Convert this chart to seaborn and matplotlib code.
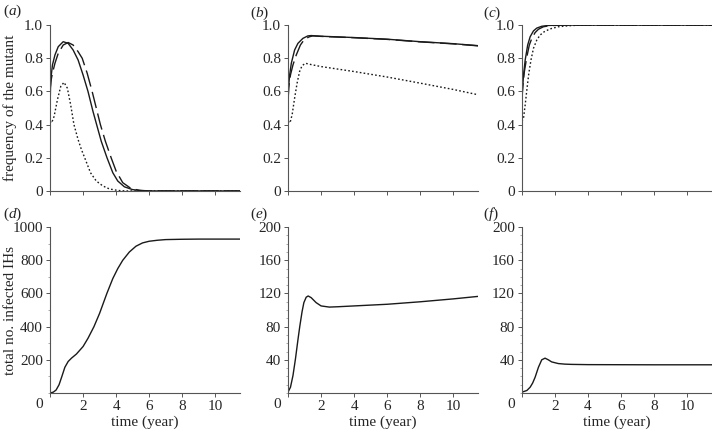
import matplotlib
matplotlib.use("Agg")
import matplotlib.pyplot as plt
import numpy as np
import pandas as pd
import seaborn as sns
from matplotlib.ticker import MultipleLocator

# ---------------------------------------------------------------------------
# values (time in years)
# ---------------------------------------------------------------------------
# (a) frequency of the mutant
a_solid_t = [0, 0.03, 0.08, 0.15, 0.3, 0.5, 0.8, 1.1, 1.4, 1.7, 2.0, 2.3, 2.6, 2.85, 3.1, 3.45, 3.8, 4.1, 4.5, 5.0, 5.5, 6.0, 11.5]
a_solid_v = [0.48, 0.62, 0.70, 0.76, 0.82, 0.87, 0.90, 0.89, 0.85, 0.79, 0.70, 0.60, 0.48, 0.39, 0.30, 0.20, 0.11, 0.06, 0.025, 0.008, 0.002, 0.0, 0.0]
a_dash_t = [0, 0.05, 0.15, 0.3, 0.5, 0.8, 1.1, 1.4, 1.7, 1.95, 2.25, 2.55, 2.8, 3.05, 3.35, 3.7, 4.0, 4.4, 4.9, 5.4, 6.0, 11.5]
a_dash_v = [0.60, 0.66, 0.71, 0.77, 0.83, 0.88, 0.895, 0.88, 0.84, 0.80, 0.71, 0.60, 0.50, 0.40, 0.30, 0.20, 0.12, 0.05, 0.015, 0.004, 0.0, 0.0]
a_dot_t = [0, 0.1, 0.25, 0.45, 0.65, 0.85, 1.05, 1.25, 1.45, 1.7, 1.9, 2.1, 2.45, 2.8, 3.2, 3.6, 4.1, 4.6, 11.5]
a_dot_v = [0.42, 0.41, 0.45, 0.55, 0.63, 0.655, 0.62, 0.52, 0.40, 0.31, 0.25, 0.20, 0.11, 0.06, 0.03, 0.012, 0.003, 0.0, 0.0]

# (b)
b_solid_t = [0, 0.03, 0.1, 0.2, 0.4, 0.6, 0.9, 1.2, 1.4, 2, 4, 6, 8, 10, 11.5]
b_solid_v = [0.48, 0.62, 0.70, 0.77, 0.85, 0.89, 0.92, 0.935, 0.937, 0.933, 0.925, 0.915, 0.90, 0.888, 0.876]
b_dash_t = [0, 0.05, 0.15, 0.3, 0.5, 0.75, 1.0, 1.3, 1.5, 2, 4, 6, 8, 10, 11.5]
b_dash_v = [0.55, 0.63, 0.70, 0.76, 0.82, 0.88, 0.915, 0.93, 0.935, 0.932, 0.924, 0.914, 0.899, 0.887, 0.875]
b_dot_t = [0, 0.12, 0.25, 0.4, 0.55, 0.7, 0.85, 1.05, 1.4, 2, 3, 4, 6, 8, 10, 11.5]
b_dot_v = [0.42, 0.41, 0.46, 0.56, 0.65, 0.72, 0.755, 0.77, 0.762, 0.75, 0.735, 0.72, 0.687, 0.65, 0.612, 0.58]

# (c)
c_solid_t = [0, 0.03, 0.1, 0.2, 0.35, 0.5, 0.7, 0.9, 1.2, 1.6, 2.2, 11.5]
c_solid_v = [0.48, 0.60, 0.70, 0.79, 0.88, 0.93, 0.965, 0.982, 0.993, 0.998, 1.0, 1.0]
c_dash_t = [0, 0.05, 0.15, 0.3, 0.45, 0.6, 0.8, 1.0, 1.3, 1.7, 2.4, 11.5]
c_dash_v = [0.55, 0.63, 0.72, 0.81, 0.88, 0.92, 0.955, 0.975, 0.99, 0.997, 1.0, 1.0]
c_dot_t = [0, 0.1, 0.2, 0.3, 0.42, 0.55, 0.7, 0.9, 1.1, 1.35, 1.7, 2.2, 2.8, 3.5, 11.5]
c_dot_v = [0.42, 0.44, 0.52, 0.61, 0.71, 0.79, 0.86, 0.91, 0.94, 0.96, 0.977, 0.99, 0.996, 1.0, 1.0]

# (d)-(f) total number of infected IHs
d_t = [0, 0.2, 0.37, 0.55, 0.72, 0.9, 1.1, 1.3, 1.6, 2.0, 2.3, 2.66, 3.0, 3.44, 3.8, 4.1, 4.4, 4.8, 5.2, 5.6, 6.0, 6.5, 7.0, 8.0, 9.0, 11.5]
d_v = [0, 5, 18, 50, 100, 155, 190, 210, 235, 280, 330, 400, 480, 600, 690, 750, 800, 850, 885, 905, 915, 921, 925, 927, 928, 928]
e_t = [0, 0.15, 0.3, 0.45, 0.6, 0.71, 0.85, 0.96, 1.1, 1.22, 1.4, 1.7, 2.0, 2.5, 3, 4, 6, 8, 10, 11.5]
e_v = [1, 7, 21, 41, 64, 80, 98, 109, 115.5, 117, 115, 109, 105, 103.6, 104, 105, 107, 110, 113.5, 116.5]
f_t = [0, 0.3, 0.5, 0.65, 0.8, 1.0, 1.2, 1.4, 1.6, 1.8, 2.2, 2.6, 3.0, 4.0, 6.0, 8.0, 11.5]
f_v = [1, 3, 7, 12, 19, 31, 40, 42, 40, 37.5, 35.5, 34.8, 34.5, 34.2, 34.1, 34.0, 34.0]

panel_letters = ["a", "b", "c", "d", "e", "f"]
x_ticks = [0, 2, 4, 6, 8, 10]
x_tick_labels = ["", "2", "4", "6", "8", "10"]

sns.set_style("ticks")
plt.rcParams["font.family"] = ["Liberation Serif", "DejaVu Serif"]
plt.rcParams["mathtext.fontset"] = "custom"
plt.rcParams["mathtext.it"] = "Liberation Serif:italic"
plt.rcParams["mathtext.rm"] = "Liberation Serif"

fig = plt.figure(figsize=(7.12, 4.33), dpi=100)
lefts = [0.0702, 0.4045, 0.733]
w, h = 0.267, 0.383
top_axes = [fig.add_axes([l, 0.559, w, h]) for l in lefts]
bot_axes = [fig.add_axes([l, 0.0924, w, h]) for l in lefts]

freq_sets = [
    (a_solid_t, a_solid_v, a_dash_t, a_dash_v, a_dot_t, a_dot_v),
    (b_solid_t, b_solid_v, b_dash_t, b_dash_v, b_dot_t, b_dot_v),
    (c_solid_t, c_solid_v, c_dash_t, c_dash_v, c_dot_t, c_dot_v),
]
ih_sets = [(d_t, d_v), (e_t, e_v), (f_t, f_v)]
col = "#1a1a1a"

for ax, (st, sv, dt, dv, pt, pv) in zip(top_axes, freq_sets):
    sns.lineplot(x=st, y=sv, ax=ax, color=col, lw=1.0)
    sns.lineplot(x=dt, y=dv, ax=ax, color=col, lw=1.0)
    ax.lines[-1].set_dashes([12, 4])
    sns.lineplot(x=pt, y=pv, ax=ax, color=col, lw=1.0)
    ax.lines[-1].set_dashes([1.2, 1.6])
    ax.set_ylim(0, 1.0)
    ax.set_yticks([0, 0.2, 0.4, 0.6, 0.8, 1.0])
    ax.set_yticklabels(["0", "0.2", "0.4", "0.6", "0.8", "1.0"])

for ax, (t, v), top in zip(bot_axes, ih_sets, [1000, 200, 200]):
    sns.lineplot(x=t, y=v, ax=ax, color=col, lw=1.0)
    ax.set_ylim(0, top)
    step = 200 if top == 1000 else 40
    ax.set_yticks(list(range(step, top + 1, step)))
    ax.yaxis.set_minor_locator(MultipleLocator(10 if top == 200 else 100))
    ax.set_xlabel("time (year)", fontsize=11, labelpad=2)

for ax in top_axes + bot_axes:
    ax.set_xlim(0, 11.5)
    ax.set_xticks(x_ticks)
    if ax in bot_axes:
        ax.set_xticklabels(x_tick_labels)
    else:
        ax.set_xticklabels([])
    sns.despine(ax=ax)
    for s in ["left", "bottom"]:
        ax.spines[s].set_linewidth(0.8)
        ax.spines[s].set_color("#555555")
    ax.tick_params(axis="both", which="major", labelsize=11, length=3, width=0.7,
                   color="#555555", pad=2)
    ax.tick_params(axis="y", which="minor", length=1.8, width=0.5, color="#888888")
    ax.set_ylabel("")

top_axes[0].set_ylabel("frequency of the mutant", fontsize=11)
bot_axes[0].set_ylabel("total no. infected IHs", fontsize=11)
top_axes[0].yaxis.set_label_coords(-0.175, 0.5)
bot_axes[0].yaxis.set_label_coords(-0.175, 0.5)

# the 0 at the lower-left corner of each bottom panel sits left of the axis
for ax in bot_axes:
    ax.text(-0.055, -0.033, "0", fontsize=11, ha="center", va="top",
            transform=ax.transAxes)

pos = [(0.004, 0.993), (0.351, 0.99), (0.678, 0.99),
       (0.004, 0.524), (0.351, 0.524), (0.678, 0.524)]
for (px, py), letter in zip(pos, panel_letters):
    fig.text(px, py, "($\\mathit{" + letter + "}$)", fontsize=11, ha="left", va="top")

fig.savefig("out.png", dpi=100)
